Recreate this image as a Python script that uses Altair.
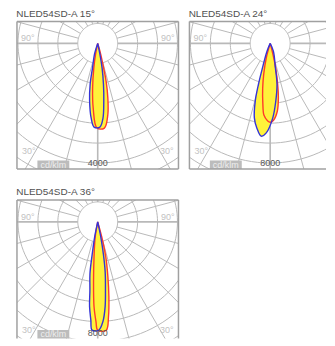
import altair as alt
import numpy as np
import pandas as pd

titles = ["NLED54SD-A 15°", "NLED54SD-A 24°", "NLED54SD-A 36°"]
ring_labels = [4000, 8000, 8000]          # value of the labelled (6th) ring, cd/klm
unit = "cd/klm"

# gamma = angle from nadir in degrees (+ to the right), intensity in cd/klm
# blue: C90-C270 plane, red: C0-C180 plane
p1_blue_gamma = [-90, -17, -12, -10.5, -8, -5, -2.5, 1.5, 4, 6, 8, 10, 11.5, 90]
p1_blue_cd = [0, 350, 850, 1390, 1950, 2510, 2800, 2800, 2510, 1940, 1380, 850, 340, 0]
p1_red_gamma = [-90, -11.5, -9, -6.5, -4, -0.5, 4.5, 8, 10.5, 12.5, 14, 16, 90]
p1_red_cd = [0, 340, 840, 1510, 2170, 2830, 2840, 2420, 1860, 1300, 690, 270, 0]

p2_blue_gamma = [-90, -22, -17.5, -16, -14.5, -12, -9, -5.5, -2.5, 2, 5.5, 9.5, 12, 22, 90]
p2_blue_cd = [0, 580, 1730, 2840, 3990, 5090, 5720, 6230, 5990, 4980, 3890, 2770, 1690, 580, 0]
p2_red_gamma = [-90, -15, -12, -9.5, -7, -5, -2, 0, 2.5, 6, 8.5, 10.5, 12.5, 14, 90]
p2_red_cd = [0, 1030, 2050, 3040, 4030, 4810, 5170, 5270, 5140, 4560, 3710, 2710, 1710, 830, 0]

p3_blue_gamma = [-90, -11.5, -9.5, -8.5, -6.5, -5.5, -4, -3, 0.5, 3, 5, 6.5, 8.5, 10, 11.5, 90]
p3_blue_cd = [0, 1020, 2370, 3510, 4610, 5690, 6590, 7250, 7250, 6670, 5690, 4570, 3370, 2170, 1020, 0]
p3_red_gamma = [-90, -9.5, -6, -4, -2.5, -1, 0, 4.5, 6.5, 8.5, 10.5, 13, 15, 90]
p3_red_cd = [0, 1010, 2350, 4010, 5670, 6670, 7250, 7270, 6370, 5050, 3730, 2390, 1030, 0]

curves = [
    [(p1_blue_gamma, p1_blue_cd), (p1_red_gamma, p1_red_cd)],
    [(p2_blue_gamma, p2_blue_cd), (p2_red_gamma, p2_red_cd)],
    [(p3_blue_gamma, p3_blue_cd), (p3_red_gamma, p3_red_cd)],
]

# layout / style
W, H = 162, 148
W2 = 137                 # second panel runs off the right edge of the page
H3 = 139                 # third panel runs off the bottom edge of the page
CX, CY = 81, 22          # pole position inside a panel (px)
R_LABEL = 120            # px radius of labelled ring
RINGS_PER_LABEL = 6
N_RINGS = 7
SPOKE_STEP = 15
BLUE, RED, YELLOW = "#3434d8", "#ff3a2a", "#fff23a"
GRID = "#b9b9b9"
FRAME = "#a0a0a0"
LIGHT = "#c2c2c2"
FONT = "Liberation Sans"


def polar_df(gamma, cd, name):
    g = np.radians(np.asarray(gamma, float))
    r = np.asarray(cd, float)
    return pd.DataFrame({"x": r * np.sin(g), "y": -r * np.cos(g),
                         "o": np.arange(len(r)), "c": name})


def panel(title, L, crv, w, h, open_right=False, open_bottom=False):
    s = L / R_LABEL
    xs = alt.Scale(domain=[-CX * s, (w - CX) * s], nice=False, zero=False)
    ys = alt.Scale(domain=[-(h - CY) * s, CY * s], nice=False, zero=False)
    enc = dict(x=alt.X("x:Q", scale=xs, axis=None),
               y=alt.Y("y:Q", scale=ys, axis=None),
               order="o:Q")

    # rings
    step = L / RINGS_PER_LABEL
    t = np.arange(0, 361, 3)
    rings = pd.concat([polar_df(t, np.full(len(t), k * step), f"r{k}")
                       for k in range(1, N_RINGS + 1)])
    ring_layer = alt.Chart(rings).mark_line(
        stroke=GRID, strokeWidth=1, clip=True).encode(detail="c:N", **enc)

    # spokes
    sp = []
    for a in range(0, 360, SPOKE_STEP):
        d = polar_df([a, a], [step, 3 * L], f"s{a}")
        d["w"] = 1.6 if a % 90 == 0 else 1.0
        sp.append(d)
    spokes = pd.concat(sp)
    spoke_layer = alt.Chart(spokes).mark_line(stroke=GRID, clip=True).encode(
        detail="c:N",
        strokeWidth=alt.StrokeWidth("w:Q", scale=None, legend=None), **enc)

    names = ["C90-C270", "C0-C180"]
    cd = pd.concat([polar_df(g, v, n) for (g, v), n in zip(crv, names)])
    fill_layer = alt.Chart(cd).mark_line(
        fill=YELLOW, strokeWidth=0, interpolate="catmull-rom", clip=True
    ).encode(detail="c:N", **enc)
    line_layers = [
        alt.Chart(cd[cd.c == n]).mark_line(
            stroke=col, strokeWidth=1.4, interpolate="catmull-rom", clip=True
        ).encode(**enc)
        for n, col in [("C0-C180", RED), ("C90-C270", BLUE)]
    ]

    def txt(text, x, y, align="left", color=LIGHT, size=9):
        return alt.Chart(pd.DataFrame({"t": [text]})).mark_text(
            align=align, baseline="middle", font=FONT, fontSize=size, color=color
        ).encode(x=alt.value(x), y=alt.value(y), text="t:N")

    labels = [txt("90°", 4, 17), txt("30°", 5, 130)]
    if not open_right:
        labels += [txt("90°", w - 4, 17, align="right"),
                   txt("30°", w - 5, 130, align="right")]
    by = min(H, h)
    box = alt.Chart(pd.DataFrame({"a": [0]})).mark_rect(color="#bcbcbc").encode(
        x=alt.value(20.5), x2=alt.value(52.5), y=alt.value(by - 8.5), y2=alt.value(by))
    unit_txt = txt(unit, 36.5, by - 4, align="center", color="#ededed", size=9)
    val_y = max(-float(L), -(h - CY - 5) * s)
    val = alt.Chart(pd.DataFrame({"x": [0.0], "y": [val_y], "t": [str(L)]})).mark_text(
        align="center", baseline="middle", font=FONT, fontSize=9, color="#555555"
    ).encode(x=alt.X("x:Q", scale=xs, axis=None), y=alt.Y("y:Q", scale=ys, axis=None),
             text="t:N")

    # frame
    one = pd.DataFrame({"a": [0]})
    fr = lambda **k: alt.Chart(one).mark_rule(color=FRAME, strokeWidth=1.5).encode(**k)
    frame = [fr(x=alt.value(0), x2=alt.value(w), y=alt.value(0)),
             fr(x=alt.value(0), y=alt.value(0), y2=alt.value(h))]
    if not open_bottom:
        frame.append(fr(x=alt.value(0), x2=alt.value(w), y=alt.value(h)))
    if not open_right:
        frame.append(fr(x=alt.value(w), y=alt.value(0), y2=alt.value(h)))

    return alt.layer(ring_layer, spoke_layer, fill_layer, *line_layers,
                     *labels, box, unit_txt, val, *frame).properties(
        width=w, height=h,
        title=alt.TitleParams(title, anchor="start", fontSize=10, font=FONT,
                              fontWeight="normal", color="#505050", offset=2))


p = [panel(titles[0], ring_labels[0], curves[0], W, H),
     panel(titles[1], ring_labels[1], curves[1], W2, H, open_right=True),
     panel(titles[2], ring_labels[2], curves[2], W, H3, open_bottom=True)]
chart = alt.vconcat(
    alt.hconcat(p[0], p[1], spacing=9),
    alt.hconcat(p[2], spacing=9),
    spacing=17,
).properties(padding={"left": 8, "top": 0, "right": 0, "bottom": 0}
).configure_view(strokeWidth=0
).configure_concat(spacing=9)

chart.save("out.html", embed_options={"renderer": "svg", "actions": False})
